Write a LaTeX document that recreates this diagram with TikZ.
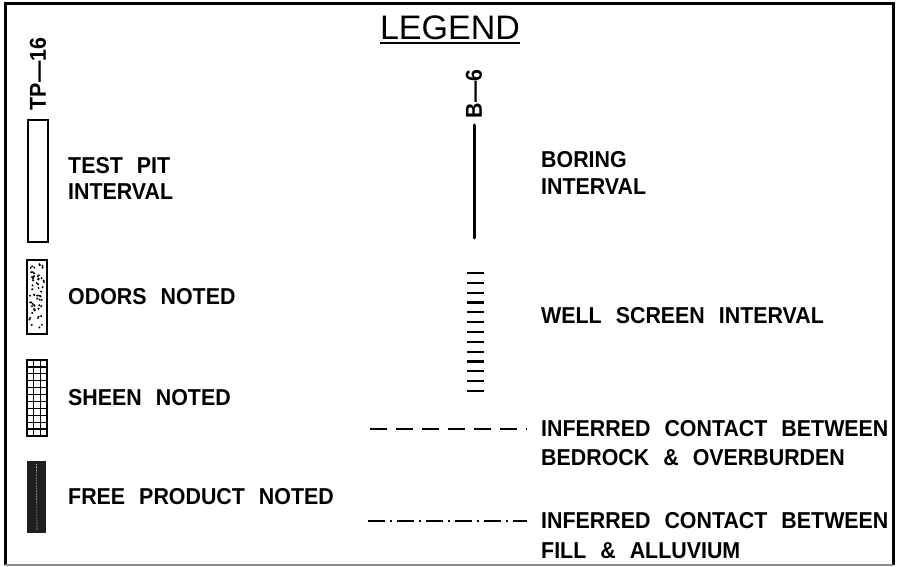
\documentclass[tikz,border=0pt]{standalone}
\usepackage{fontspec}
\setmainfont{Liberation Sans}
\newfontfamily\cadfont[FakeStretch=0.93]{Liberation Sans}
\newcommand\cadlabel{\cadfont\fontsize{23}{27}\selectfont\bfseries\spaceskip=14pt\relax}
\usetikzlibrary{calc}

\begin{document}
\begin{tikzpicture}[x=1pt, y=-1pt,
  lbl/.style={anchor=west, inner sep=0pt, font=\cadlabel},
  tag/.style={rotate=90, inner sep=0pt, font=\cadlabel},
  pit/.style={line width=1.6pt},
  ticks/.style={line width=2.2pt}]
  \useasboundingbox (0,0) rectangle (898,567);
  % frame
  \draw[line width=3pt] (5,565) -- (5,4) -- (893,4) -- (893,565);
  \draw[line width=1.5pt, black!45] (5,565) -- (893,565);

  % title
  \node[anchor=base, inner sep=0pt, font=\fontsize{34}{38}\selectfont] (legend) at (450,40) {LEGEND};
  \draw[line width=1.2pt] ($(legend.base west)+(0,3)$) -- ($(legend.base east)+(0,3)$);

  % test pit column
  \node[tag] (tp) at (38,74) {TP\textemdash16};
  \draw[pit] (28,120) rectangle (48,242);
  \node[lbl] (testpit) at (68,166) {TEST PIT};
  \node[lbl] (testpitb) at (68,192) {INTERVAL};

  % odors
  \draw[pit] (27,260) rectangle (47,334);
  \pgfmathsetseed{11}
  \foreach \i in {1,...,60}{
    \pgfmathsetmacro\dx{29.5+15*rnd}
    \pgfmathsetmacro\dy{263+68*rnd}
    \fill (\dx,\dy) circle (1.1);
  }
  \node[lbl] (odors) at (68,297) {ODORS NOTED};

  % sheen
  \draw[pit] (27,360) rectangle (47,436);
  \foreach \i in {1,...,10}
    \draw[line width=1.3pt] (27,{360+\i*6.91}) -- (47,{360+\i*6.91});
  \foreach \x in {33.7,40.3}
    \draw[line width=1.3pt] (\x,360) -- (\x,436);
  \node[lbl] (sheen) at (68,398) {SHEEN NOTED};

  % free product
  \fill[black!88] (27,461) rectangle (46,533);
  \draw[white, line width=0.6pt, densely dotted] (36.5,464) -- (37,530);
  \node[lbl] (free) at (68,497) {FREE PRODUCT NOTED};

  % boring column
  \node[tag] (bsix) at (474,94) {B\textemdash6};
  \coordinate (btop) at (474,125);
  \coordinate (bbot) at (474,238);
  \draw[line width=3pt, line cap=round] (btop) -- (bbot);
  \node[lbl] (boring) at (541,160) {BORING};
  \node[lbl] (boringb) at (541,187) {INTERVAL};

  % well screen
  \foreach \i in {0,...,12}
    \draw[ticks] (467,{273+\i*9.83}) -- (484,{273+\i*9.83});
  \node[lbl] (screen) at (541,316) {WELL SCREEN INTERVAL};

  % contacts
  \coordinate (dsh1) at (370,429);
  \coordinate (dsh2) at (527,429);
  \draw[line width=1.5pt, dash pattern=on 17pt off 9pt] (dsh1) -- (dsh2);
  \node[lbl] (bedrock) at (541,429) {INFERRED CONTACT BETWEEN};
  \node[lbl] (bedrockb) at (541,458) {BEDROCK \& OVERBURDEN};

  \coordinate (dd1) at (368,521);
  \coordinate (dd2) at (527,521);
  \draw[line width=1.5pt, dash pattern=on 17pt off 5pt on 2pt off 5pt] (dd1) -- (dd2);
  \node[lbl] (fill) at (541,521) {INFERRED CONTACT BETWEEN};
  \node[lbl] (fillb) at (541,551) {FILL \& ALLUVIUM};
\end{tikzpicture}
\end{document}
